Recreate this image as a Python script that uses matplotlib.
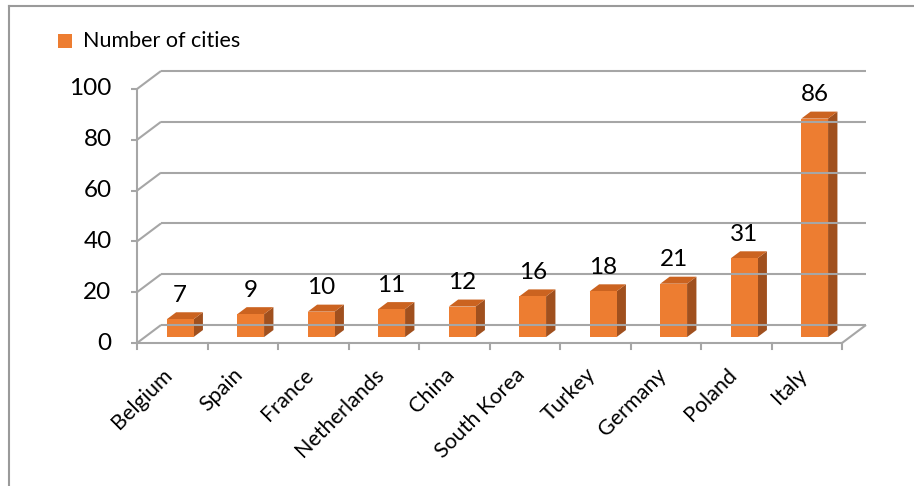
import numpy as np
import matplotlib.pyplot as plt
from matplotlib.lines import Line2D
from matplotlib.patches import Rectangle, Polygon

plt.rcParams['font.family'] = ['Lato', 'DejaVu Sans']

# data
countries = ['Belgium', 'Spain', 'France', 'Netherlands', 'China',
             'South Korea', 'Turkey', 'Germany', 'Poland', 'Italy']
cities = [7, 9, 10, 11, 12, 16, 18, 21, 31, 86]
yticks = [0, 20, 40, 60, 80, 100]

W, H = 914, 486
fig = plt.figure(figsize=(W / 100, H / 100), dpi=100)

# axes box = front face of the 3d floor/axis
left, right, bottom, top = 137, 842, 343, 89
ax = fig.add_axes([left / W, 1 - bottom / H, (right - left) / W, (bottom - top) / H])
ax.set_xlim(-0.5, len(countries) - 0.5)
ax.set_ylim(0, 100)
ax.axis('off')

# depth offset for one unit of depth, in data units
px_x = (right - left) / len(countries)
px_y = (bottom - top) / 100
DX = 24 / px_x
DY = 18 / px_y

grid_c = '#A6A6A6'
lw = 1.5


def line(xs, ys, **kw):
    ax.add_line(Line2D(xs, ys, color=grid_c, lw=lw, clip_on=False,
                       solid_capstyle='butt', **kw))


x0, x1 = -0.5, len(countries) - 0.5
# back wall gridlines + diagonals
for v in yticks:
    line([x0, x0 + DX], [v, v + DY])
    line([x0 + DX, x1 + DX], [v + DY, v + DY])
    line([x0 - 0.08, x0], [v, v])
# floor front and right edge
line([x0, x1], [0, 0])
line([x1, x1 + DX], [0, DY])
# front y axis
line([x0, x0], [0, 100])
# category ticks
for k in range(len(countries) + 1):
    ax.add_line(Line2D([x0 + k, x0 + k], [0, -2.2], color=grid_c, lw=lw, clip_on=False))

for v in yticks:
    ax.text(x0 - 0.36, v, str(v), ha='right', va='center', fontsize=17.5)

# bars
front_c, top_c, side_c = '#ED7D31', '#CB6320', '#A0501E'
bw = 0.38
d0, d1 = 0.33, 0.72
for i, val in enumerate(cities):
    xl, xr = i - bw / 2, i + bw / 2

    def P(x, v, d):
        return (x + d * DX, v + d * DY)

    side = [P(xr, 0, d0), P(xr, val, d0), P(xr, val, d1), P(xr, 0, d1)]
    topf = [P(xl, val, d0), P(xr, val, d0), P(xr, val, d1), P(xl, val, d1)]
    front = [P(xl, 0, d0), P(xr, 0, d0), P(xr, val, d0), P(xl, val, d0)]
    for pts, c in [(side, side_c), (topf, top_c), (front, front_c)]:
        ax.add_patch(Polygon(pts, closed=True, facecolor=c, edgecolor='none', clip_on=False))

    lx, ly = P(i, val, d0)
    ax.annotate(str(val), (lx, val + d1 * DY), xytext=(0, 17), textcoords='offset pixels',
                ha='center', va='center', fontsize=17.5)

    ax.text(i + 0.06, -8.5, countries[i], rotation=45, ha='right', va='top', fontsize=15.5)

# legend
fig.patches.append(Rectangle((58 / W, 1 - 48 / H), 14 / W, 14 / H, transform=fig.transFigure,
                             facecolor=front_c, edgecolor='none'))
fig.text(83 / W, 1 - 41 / H, 'Number of cities', ha='left', va='center', fontsize=15.5)

# chart border
fig.add_artist(Line2D([9 / W, 9 / W], [0, 1 - 6 / H], color='#9A9A9A', lw=1.5))
fig.add_artist(Line2D([9 / W, 1], [1 - 6 / H, 1 - 6 / H], color='#9A9A9A', lw=1.5))

fig.savefig('out.png', dpi=100)
